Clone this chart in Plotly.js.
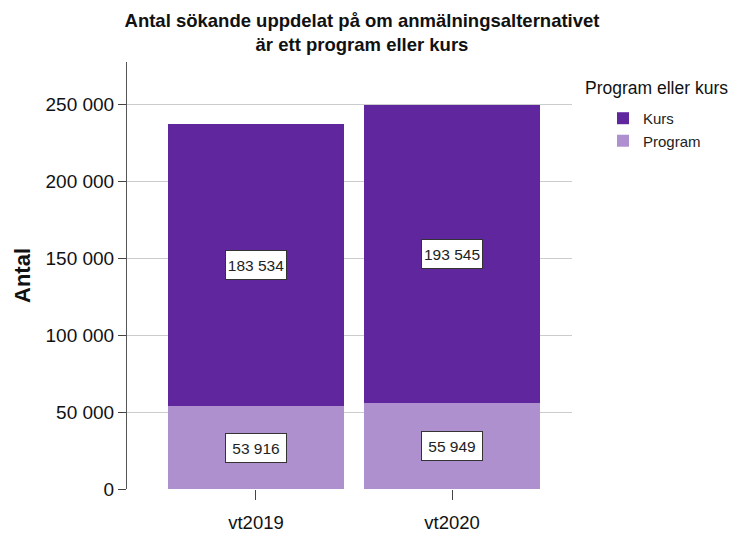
<!DOCTYPE html>
<html>
<head>
<meta charset="utf-8">
<script src="https://cdn.plot.ly/plotly-3.0.1.min.js"></script>
<style>html,body{margin:0;padding:0;background:#fff;}#chart{width:737px;height:536px;}</style>
</head>
<body>
<div id="chart"></div>
<script>
const categories = ['vt2019', 'vt2020'];
const programValues = [53916, 55949];
const kursValues = [183534, 193545];
const seriesNames = ['Program', 'Kurs'];
const yTickValues = [0, 50000, 100000, 150000, 200000, 250000];

const colorKurs = '#60269E';
const colorProgram = '#AE90CE';
const FONT = 'Liberation Sans, Arial, sans-serif';

function fmt(n) { return String(n).replace(/\B(?=(\d{3})+(?!\d))/g, ' '); }

const traces = [
  { type: 'bar', name: seriesNames[0], x: categories, y: programValues,
    marker: { color: colorProgram, line: { width: 0 } }, hoverinfo: 'none' },
  { type: 'bar', name: seriesNames[1], x: categories, y: kursValues,
    marker: { color: colorKurs, line: { width: 0 } }, hoverinfo: 'none' }
];

const boxStyle = { showarrow: false, bgcolor: '#ffffff', bordercolor: '#333333', borderwidth: 1, borderpad: 1,
  width: 58, height: 26, font: { family: FONT, size: 15.5, color: '#222' } };

const annotations = [];
categories.forEach((c, i) => {
  annotations.push(Object.assign({ x: c, y: programValues[i] / 2, xref: 'x', yref: 'y', text: fmt(programValues[i]) }, boxStyle));
  annotations.push(Object.assign({ x: c, y: programValues[i] + kursValues[i] / 2, xref: 'x', yref: 'y', text: fmt(kursValues[i]) }, boxStyle));
});
annotations.push({ xref: 'paper', yref: 'paper', x: (583 - 127) / 445, y: (489.3 - 88) / 427.3,
  xanchor: 'left', yanchor: 'middle', text: 'Program eller kurs', showarrow: false,
  font: { family: FONT, size: 17.5, color: '#111' } });

const layout = {
  width: 737, height: 536,
  margin: { l: 127, r: 165, t: 62, b: 47, pad: 0 },
  paper_bgcolor: '#fff', plot_bgcolor: '#fff',
  separators: ', ',
  barmode: 'stack', bargap: 0.1,
  showlegend: true,
  title: { text: '<b>Antal sökande uppdelat på om anmälningsalternativet<br>är ett program eller kurs</b>',
    font: { family: FONT, size: 18.5, color: '#111' },
    x: 362 / 737, xref: 'container', xanchor: 'center', y: 1 - 27 / 536, yref: 'container', yanchor: 'top' },
  xaxis: { type: 'category', range: [-0.658, 1.612], showgrid: false, zeroline: false, showline: false,
    ticks: 'outside', ticklen: 10, tickcolor: '#444', tickwidth: 1, ticklabelstandoff: 7,
    tickfont: { family: FONT, size: 18.5, color: '#111' } },
  yaxis: { range: [0, 277500], tickvals: yTickValues, tickformat: ',d', showgrid: true, gridcolor: '#cccccc', gridwidth: 1,
    zeroline: false, showline: true, linecolor: '#555', linewidth: 1,
    ticks: 'outside', ticklen: 8, tickcolor: '#444',
    tickfont: { family: FONT, size: 19, color: '#111' },
    title: { text: '<b>Antal</b>', font: { family: FONT, size: 22, color: '#111' }, standoff: 8 } },
  legend: { x: (603 - 127) / 445, xanchor: 'left', y: (489.3 - 102) / 427.3, yanchor: 'top',
    font: { family: FONT, size: 15, color: '#222' }, itemwidth: 30, tracegroupgap: 0,
    bgcolor: 'rgba(0,0,0,0)', borderwidth: 0 },
  annotations: annotations
};

Plotly.newPlot('chart', traces, layout, { displayModeBar: false, staticPlot: true });
</script>
</body>
</html>
